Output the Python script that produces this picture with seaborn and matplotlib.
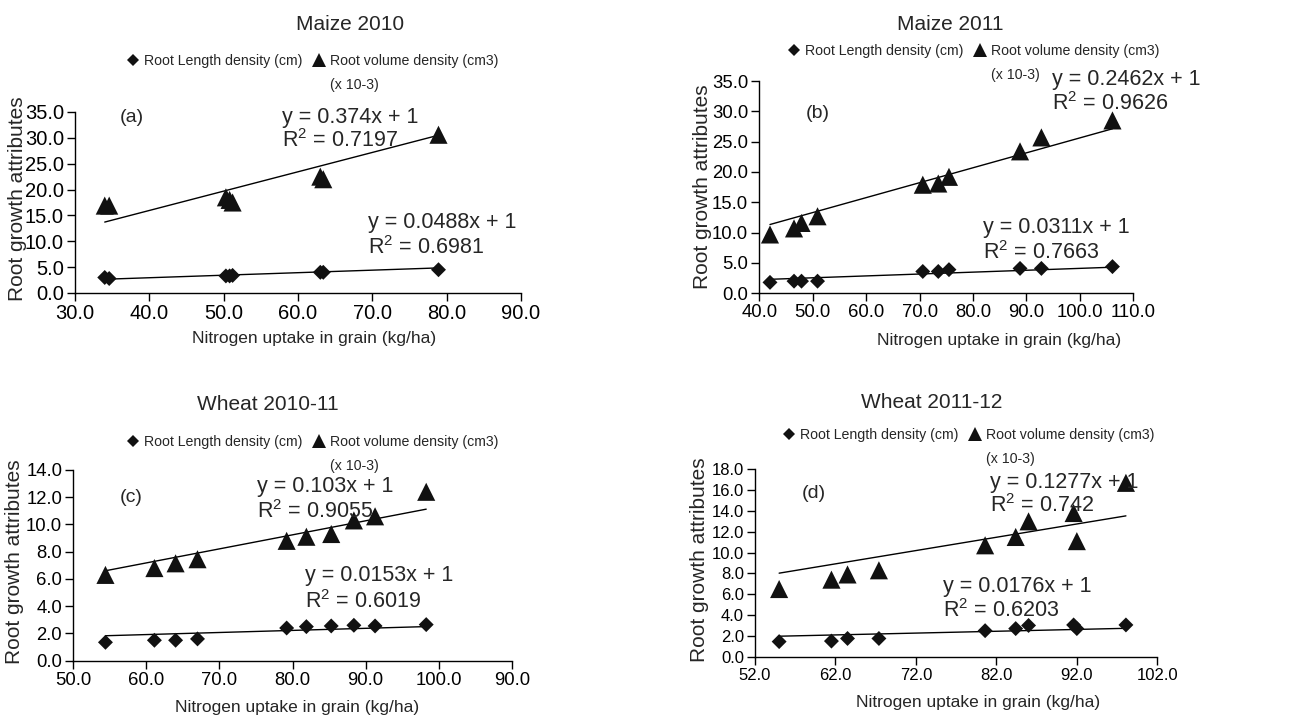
import seaborn as sns
import matplotlib.pyplot as plt
import pandas as pd

# ---- data ----
rld_label = 'Root Length density (cm)'
rvd_label = 'Root volume density (cm3)'

# (a) Maize 2010
maize10_n = [34.0, 34.6, 50.3, 50.8, 51.2, 63.0, 63.4, 78.9]
maize10_rld = [3.0, 2.8, 3.3, 3.3, 3.4, 4.0, 4.0, 4.5]
maize10_rvd = [16.9, 16.9, 18.5, 18.0, 17.5, 22.5, 22.0, 30.6]

# (b) Maize 2011
maize11_n = [42.0, 46.5, 47.9, 50.9, 70.6, 73.5, 75.5, 88.8, 92.8, 106.1]
maize11_rld = [1.8, 2.0, 2.0, 2.0, 3.6, 3.6, 3.9, 4.1, 4.1, 4.4]
maize11_rvd = [9.7, 10.7, 11.6, 12.7, 17.9, 18.1, 19.2, 23.4, 25.7, 28.5]

# (c) Wheat 2010-11
wheat11_n = [54.4, 61.1, 64.0, 67.0, 79.2, 81.9, 85.3, 88.4, 91.3, 98.3]
wheat11_rld = [1.35, 1.5, 1.5, 1.6, 2.4, 2.5, 2.55, 2.6, 2.55, 2.65]
wheat11_rvd = [6.3, 6.8, 7.15, 7.45, 8.8, 9.1, 9.3, 10.3, 10.6, 12.4]

# (d) Wheat 2011-12
wheat12_n = [55.0, 61.5, 63.5, 67.4, 80.6, 84.4, 86.0, 91.6, 92.0, 98.1]
wheat12_rld = [1.45, 1.5, 1.75, 1.75, 2.5, 2.7, 3.0, 3.05, 2.7, 3.05]
wheat12_rvd = [6.5, 7.4, 7.9, 8.3, 10.7, 11.5, 13.0, 13.8, 11.1, 16.7]

# trendlines (y = slope * x + 1) and their labels
slopes_rld = [0.0488, 0.0311, 0.0153, 0.0176]
slopes_rvd = [0.374, 0.2462, 0.103, 0.1277]
r2_rld = ['0.6981', '0.7663', '0.6019', '0.6203']
r2_rvd = ['0.7197', '0.9626', '0.9055', '0.742']

titles = ['Maize 2010', 'Maize 2011', 'Wheat 2010-11', 'Wheat 2011-12']
tags = ['(a)', '(b)', '(c)', '(d)']

xticks_a = [30, 40, 50, 60, 70, 80, 90]
xticks_b = [40, 50, 60, 70, 80, 90, 100, 110]
xticks_c = [50, 60, 70, 80, 90, 100, 110]
xticklabels_c = ['50.0', '60.0', '70.0', '80.0', '90.0', '100.0', '90.0']
xticks_d = [52, 62, 72, 82, 92, 102]
yticks_a = [0, 5, 10, 15, 20, 25, 30, 35]
yticks_c = [0, 2, 4, 6, 8, 10, 12, 14]
yticks_d = [0, 2, 4, 6, 8, 10, 12, 14, 16, 18]

# ---- style ----
sns.set_style('ticks')
plt.rcParams['font.family'] = ['Liberation Sans', 'DejaVu Sans']
plt.rcParams['mathtext.default'] = 'regular'

fig = plt.figure(figsize=(13.1, 7.18), dpi=100)
W, H = 1310, 718

# axes boxes in pixels: left, right, top, bottom
boxes = [(75, 521, 112, 293), (759.3, 1133.3, 81, 293.3),
         (73.3, 511.7, 470, 660.7), (755, 1157.3, 469.3, 656.7)]

panels = [
    dict(n=maize10_n, rld=maize10_rld, rvd=maize10_rvd, xticks=xticks_a, xlabels=None,
         yticks=yticks_a, tick_fs=14.5, title=(0.617, 1.486), leg=(133, 61), tag=(0.101, 0.972),
         eq_up=(0.464, 0.972, 0.840), eq_lo=(0.657, 0.387, 0.249),
         xlab=(0.536, -0.254), ylab=(-0.128, 0.52)),
    dict(n=maize11_n, rld=maize11_rld, rvd=maize11_rvd, xticks=xticks_b, xlabels=None,
         yticks=yticks_a, tick_fs=13.3, title=(0.51, 1.264), leg=(794, 51), tag=(0.125, 0.849),
         eq_up=(0.783, 1.005, 0.892), eq_lo=(0.598, 0.312, 0.194),
         xlab=(0.641, -0.22), ylab=(-0.153, 0.5)),
    dict(n=wheat11_n, rld=wheat11_rld, rvd=wheat11_rvd, xticks=xticks_c, xlabels=xticklabels_c,
         yticks=yticks_c, tick_fs=13.3, title=(0.444, 1.341), leg=(133, 442), tag=(0.107, 0.858),
         eq_up=(0.419, 0.911, 0.780), eq_lo=(0.528, 0.449, 0.308),
         xlab=(0.51, -0.243), ylab=(-0.133, 0.52)),
    dict(n=wheat12_n, rld=wheat12_rld, rvd=wheat12_rvd, xticks=xticks_d, xlabels=None,
         yticks=yticks_d, tick_fs=12, title=(0.44, 1.359), leg=(789, 435), tag=(0.117, 0.873),
         eq_up=(0.584, 0.927, 0.804), eq_lo=(0.467, 0.372, 0.244),
         xlab=(0.554, -0.247), ylab=(-0.137, 0.52)),
]

leg_fs = 10.2
handlelen = 1.0
extras = []

for i, p in enumerate(panels):
    l, r, t, b = boxes[i]
    ax = fig.add_axes([l / W, (H - b) / H, (r - l) / W, (b - t) / H])
    n = p['n']
    df = pd.DataFrame({'N': n + n,
                       'value': p['rld'] + p['rvd'],
                       'attr': [rld_label] * len(n) + [rvd_label] * len(n)})
    sns.scatterplot(data=df, x='N', y='value', style='attr', size='attr',
                    markers={rld_label: 'D', rvd_label: '^'},
                    sizes={rld_label: 58, rvd_label: 170},
                    color='#111111', linewidth=0, ax=ax, zorder=3)

    # fitted trendlines with intercept 1
    for vals, slope in ((p['rld'], slopes_rld[i]), (p['rvd'], slopes_rvd[i])):
        xs = [min(n), max(n)]
        sns.lineplot(x=xs, y=[slope * v + 1 for v in xs], color='black',
                     linewidth=1.0, ax=ax, zorder=2)

    ax.set_xlim(p['xticks'][0], p['xticks'][-1])
    ax.set_ylim(p['yticks'][0], p['yticks'][-1])
    ax.set_xticks(p['xticks'])
    ax.set_yticks(p['yticks'])
    ax.set_xticklabels(p['xlabels'] if p['xlabels'] else ['%.1f' % v for v in p['xticks']])
    ax.set_yticklabels(['%.1f' % v for v in p['yticks']])
    ax.tick_params(direction='out', length=5.5, width=1, labelsize=p['tick_fs'], pad=2.5,
                   colors='black')
    sns.despine(ax=ax)
    for s in ('left', 'bottom'):
        ax.spines[s].set_linewidth(1.0)
        ax.spines[s].set_color('black')

    ax.set_xlabel('Nitrogen uptake in grain (kg/ha)', fontsize=12.5)
    ax.set_ylabel('Root growth attributes', fontsize=15)
    ax.xaxis.set_label_coords(*p['xlab'])
    ax.yaxis.set_label_coords(*p['ylab'])
    ax.xaxis.label.set_va('center')
    ax.yaxis.label.set_va('center')

    ax.text(p['title'][0], p['title'][1], titles[i], transform=ax.transAxes,
            ha='center', va='center', fontsize=15)
    ax.text(p['tag'][0], p['tag'][1], tags[i], transform=ax.transAxes,
            ha='left', va='center', fontsize=14)
    x0, y1, y2 = p['eq_up']
    ax.text(x0, y1, 'y = %sx + 1' % slopes_rvd[i], transform=ax.transAxes,
            ha='left', va='center', fontsize=15.5)
    ax.text(x0, y2, 'R$^{2}$ = %s' % r2_rvd[i], transform=ax.transAxes,
            ha='left', va='center', fontsize=15.5)
    x0, y1, y2 = p['eq_lo']
    ax.text(x0, y1, 'y = %sx + 1' % slopes_rld[i], transform=ax.transAxes,
            ha='left', va='center', fontsize=15.5)
    ax.text(x0, y2, 'R$^{2}$ = %s' % r2_rld[i], transform=ax.transAxes,
            ha='left', va='center', fontsize=15.5)

    # legend above the plot, anchored on the first marker
    lx, ly = p['leg']
    off = handlelen * leg_fs * 100 / 72 / 2
    anchor = ((lx - off - l) / (r - l), (b - ly) / (b - t))
    sns.move_legend(ax, 'center left', bbox_to_anchor=anchor, ncol=2, frameon=False,
                    title=None, borderpad=0, borderaxespad=0, handlelength=handlelen,
                    handletextpad=0.25, columnspacing=0.7, markerscale=0.75,
                    prop={'size': leg_fs})
    extras.append((ax, ly))

fig.canvas.draw()
for ax, ly in extras:
    txt = ax.get_legend().get_texts()[1]
    bb = txt.get_window_extent()
    y_disp = (H - (ly + 24)) * fig.dpi / 100
    xa, ya = ax.transAxes.inverted().transform((bb.x0, y_disp))
    ax.text(xa, ya, '(x 10-3)', transform=ax.transAxes, ha='left', va='center',
            fontsize=leg_fs)

fig.savefig('out.png', dpi=100)
